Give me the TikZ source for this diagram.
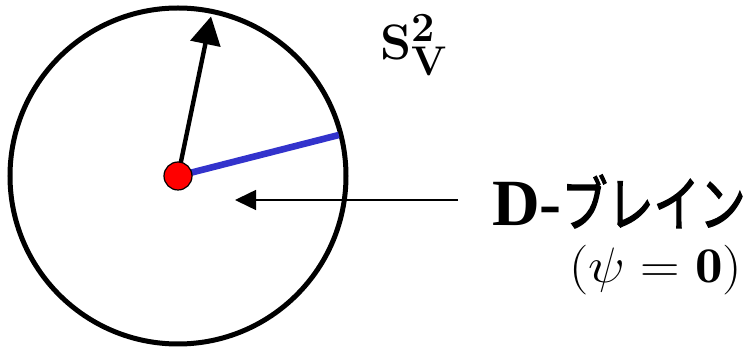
\documentclass[tikz,border=0pt]{standalone}
\usepackage{fontspec}
\newfontfamily\cjk{Noto Sans CJK JP}[FakeBold=2.5]
\newfontfamily\romanbold{Liberation Serif}
\usetikzlibrary{arrows.meta,calc}
\definecolor{braneblue}{RGB}{51,51,204}
\begin{document}
\begin{tikzpicture}[x=0.5pt, y=-0.5pt,
	tagtext/.style={inner sep=0pt, outer sep=0pt},
	leg/.style={line width=2.2pt, -{Triangle[length=14pt, width=15pt]}},
	pointer/.style={line width=0.75pt, -{Triangle[length=10.5pt, width=10pt]}}]
	\useasboundingbox (0,0) rectangle (746,347);
	% Sphere, legs and centre:
	\node[shape=circle, draw, line width=2.5pt, minimum size=168pt, inner sep=0pt] (sphere) at (178,176){};
	\coordinate (tip) at ($(sphere.center)+(-78.3:163)$);
	\coordinate (rim) at ($(sphere.center)+(-14.3:166)$);
	\draw[line width=3.3pt, braneblue] (sphere.center) -- (rim);
	\draw[leg] (sphere.center) -- (tip);
	\node[shape=circle, draw, fill=red, line width=0.6pt, minimum size=14pt, inner sep=0pt] (centre) at (sphere.center){};
	% Labels and pointer:
	\node[tagtext, anchor=base west, font=\fontsize{28}{32}\selectfont\boldmath] (sv) at (380,60){$\mathbf{S}_{\mathbf{V}}^{\mathbf{2}}$};
	\node[tagtext, anchor=base west, font=\fontsize{33}{36}\selectfont\bfseries] (dbrane) at (492,226){{\romanbold D-}\scalebox{1}[1.3]{\cjk\mdseries\fontsize{23}{26}\selectfont ブレイン}};
	\node[tagtext, anchor=base east, xscale=1.1, font=\fontsize{25}{29}\selectfont] (psi) at (742,283){$(\psi = \mathbf{0})$};
	\coordinate (lead) at (458,200);
	\coordinate (target) at (235,200);
	\draw[pointer] (lead) -- (target);
\end{tikzpicture}
\end{document}
